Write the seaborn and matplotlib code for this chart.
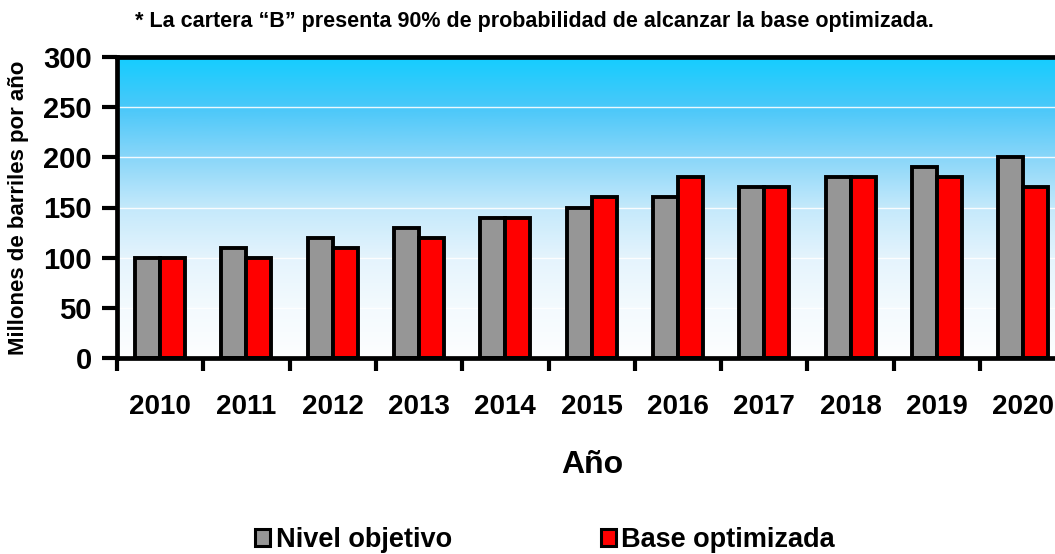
import numpy as np
import pandas as pd
import matplotlib
matplotlib.use("Agg")
import matplotlib.pyplot as plt
from matplotlib.colors import LinearSegmentedColormap
from matplotlib.patches import Patch
import seaborn as sns

# Production series (millions of barrels per year)
years = ["2010", "2011", "2012", "2013", "2014", "2015",
         "2016", "2017", "2018", "2019", "2020"]
nivel_objetivo = [100, 110, 120, 130, 140, 150, 160, 170, 180, 190, 200]
base_optimizada = [100, 100, 110, 120, 140, 160, 180, 170, 180, 180, 170]
series_names = ["Nivel objetivo", "Base optimizada"]
series_colors = ["#969696", "#ff0000"]
y_ticks = [0, 50, 100, 150, 200, 250, 300]

df = pd.DataFrame({
    "Año": years * 2,
    "valor": nivel_objetivo + base_optimizada,
    "serie": [series_names[0]] * len(years) + [series_names[1]] * len(years),
})

sns.set_theme(style="white")
plt.rcParams["font.family"] = ["Liberation Sans", "DejaVu Sans"]
plt.rcParams["font.weight"] = "bold"
plt.rcParams["text.color"] = "black"
plt.rcParams["axes.labelcolor"] = "black"
plt.rcParams["xtick.color"] = "black"
plt.rcParams["ytick.color"] = "black"

W, H = 1055, 554
fig = plt.figure(figsize=(W / 100, H / 100), dpi=100)
ax_w = 11 * 86.3
ax = fig.add_axes([117 / W, 196 / H, ax_w / W, 301 / H])

# Vertical sky-blue gradient behind the bars
grad_cmap = LinearSegmentedColormap.from_list(
    "sky",
    [(0.0, "#fdfeff"), (0.17, "#f3fafe"), (0.33, "#e5f4fd"), (0.5, "#c4e9fb"),
     (0.67, "#88d6f9"), (0.83, "#4bc8f9"), (1.0, "#15cdff")],
)
grad = np.linspace(0, 1, 256).reshape(-1, 1)
ax.imshow(grad, cmap=grad_cmap, origin="lower", aspect="auto",
          extent=[-0.5, 10.5, 0, 300], zorder=0)

sns.barplot(data=df, x="Año", y="valor", hue="serie", ax=ax,
            palette=series_colors, width=0.58, edgecolor="black",
            linewidth=2.8, saturation=1, legend=False, zorder=3)

ax.set_xlim(-0.5, 10.5)
ax.set_ylim(0, 300)
ax.set_yticks(y_ticks)
for v in y_ticks[1:-1]:
    ax.axhline(v, color="white", lw=1.0, alpha=0.9, zorder=1)

for side in ["left", "bottom", "top"]:
    ax.spines[side].set_visible(True)
    ax.spines[side].set_color("black")
    ax.spines[side].set_linewidth(3.4)
    ax.spines[side].set_zorder(5)
ax.spines["right"].set_visible(False)

# Category ticks sit between the year groups
ax.set_xticks(np.arange(len(years)))
ax.set_xticklabels(years)
ax.set_xticks(np.arange(-0.5, len(years), 1.0), minor=True)
ax.tick_params(axis="x", which="major", length=0, pad=26, labelsize=20)
ax.tick_params(axis="x", which="minor", direction="out", length=9, width=3,
               color="black", bottom=True)
ax.tick_params(axis="y", direction="out", length=11, width=3, color="black",
               left=True, pad=7, labelsize=21)
for lab in ax.get_xticklabels() + ax.get_yticklabels():
    lab.set_fontweight("bold")
    lab.set_color("black")

ax.set_xlabel("Año", fontsize=23, fontweight="bold", color="black")
ax.xaxis.set_label_coords((592 - 117) / ax_w, -(450 - 358) / 301)
ax.set_ylabel("Millones de barriles por año", fontsize=16, fontweight="bold",
              color="black")
ax.yaxis.set_label_coords(-(117 - 29) / ax_w, 0.5)

fig.text(534 / W, 1 - 21 / H,
         "* La cartera \u201cB\u201d presenta 90% de probabilidad de alcanzar la base optimizada.",
         ha="center", va="center", fontsize=15.5, fontweight="bold", color="black",
         family=["Liberation Sans Narrow", "Liberation Sans", "DejaVu Sans"])

handles = [Patch(facecolor=c, edgecolor="black", linewidth=2.2) for c in series_colors]
fig.legend(handles, series_names, loc="center", ncol=2,
           bbox_to_anchor=(545 / W, 1 - 540 / H), frameon=False,
           prop={"size": 19.5, "weight": "bold"}, handlelength=0.55,
           handleheight=0.55, handletextpad=0.2, columnspacing=5.5,
           labelcolor="black")

fig.savefig("out.png", dpi=100)
